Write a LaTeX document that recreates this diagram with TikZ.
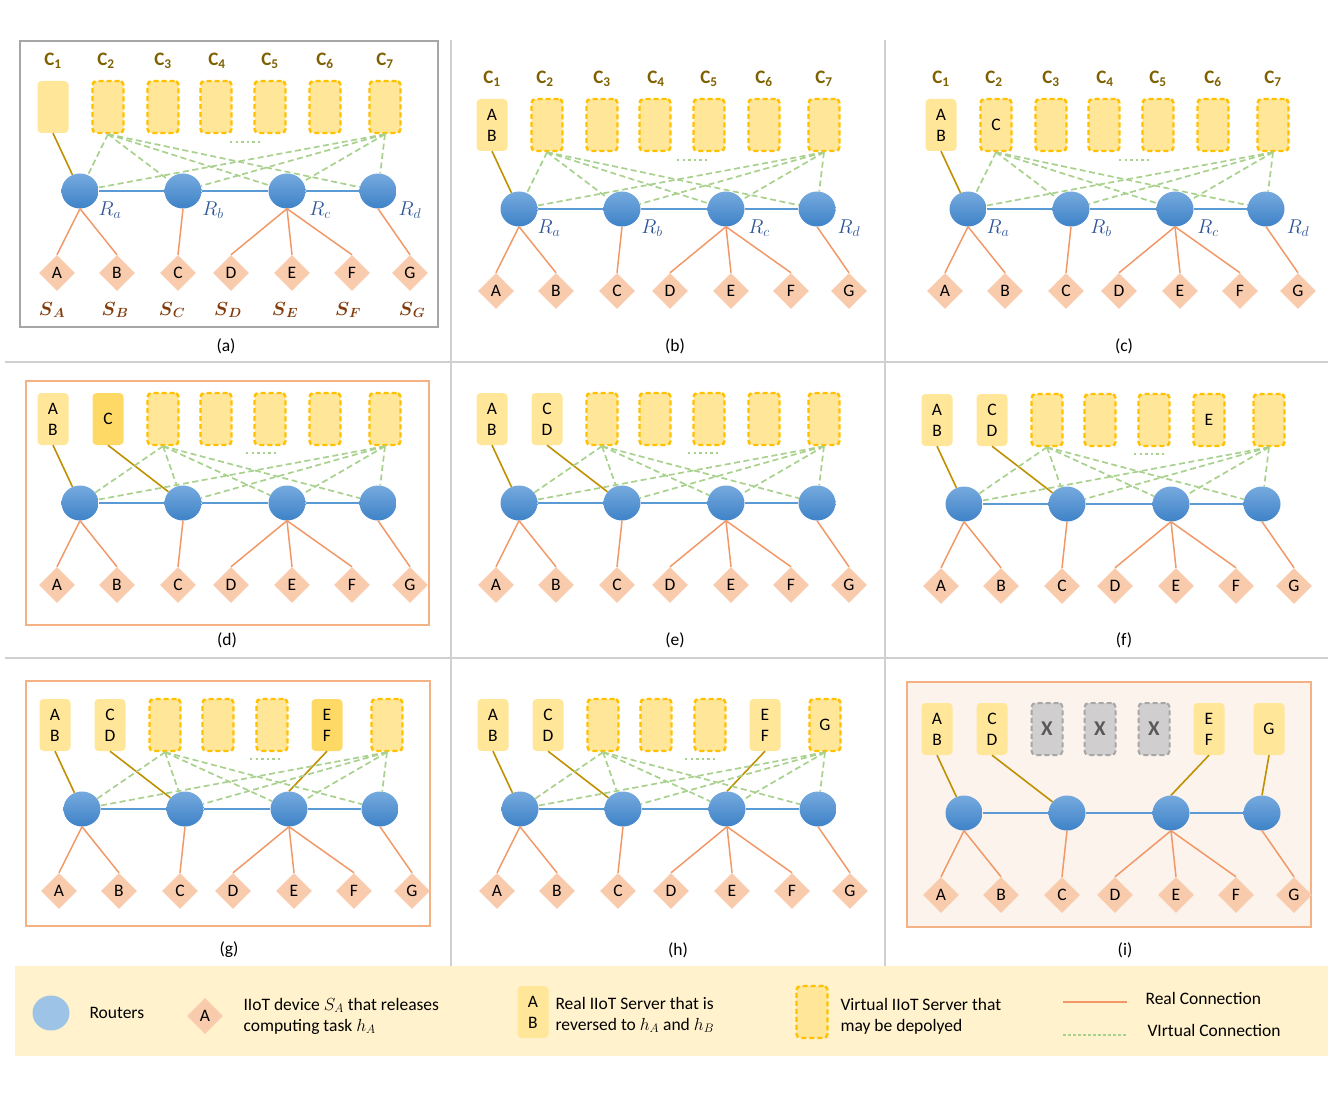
\RequirePackage{fix-cm}
\documentclass[tikz,border=0pt]{standalone}
\usepackage{amsmath,amssymb}
\usepackage{fontspec}
\setmainfont{Carlito}
\usetikzlibrary{shapes.geometric}

\definecolor{srvfill}{RGB}{255,230,153}
\definecolor{srvdark}{RGB}{255,217,102}
\definecolor{srvline}{RGB}{255,192,0}
\definecolor{rtop}{RGB}{118,170,222}
\definecolor{rbot}{RGB}{62,130,200}
\definecolor{rline}{RGB}{91,155,213}
\definecolor{devfill}{RGB}{248,203,173}
\definecolor{realc}{RGB}{241,152,102}
\definecolor{goldc}{RGB}{191,144,0}
\definecolor{virtc}{RGB}{169,209,142}
\definecolor{clab}{RGB}{127,96,0}
\definecolor{slab}{RGB}{132,60,12}
\definecolor{rlab}{RGB}{47,85,151}
\definecolor{framegrey}{RGB}{166,166,166}
\definecolor{frameorange}{RGB}{244,177,131}
\definecolor{pinkbg}{RGB}{252,243,237}
\definecolor{sepgrey}{RGB}{208,208,208}
\definecolor{legbg}{RGB}{255,242,204}
\definecolor{xfill}{RGB}{208,206,206}
\definecolor{xline}{RGB}{166,166,166}
\definecolor{xtext}{RGB}{89,89,89}
\definecolor{legrouter}{RGB}{157,195,230}

\newcommand{\txtfont}{\fontsize{17.5}{21}\selectfont}

% routers, devices and their real links of one panel
\newcommand{\basenet}[1]{%
\node[router] (#1ra) at (80,191) {};\node[router] (#1rb) at (183,191) {};
\node[router] (#1rc) at (287,191) {};\node[router] (#1rd) at (378,191) {};
\draw[backbone] (#1ra) -- (#1rb) -- (#1rc) -- (#1rd);
\node[device] (#1dA) at (57,273) {A};\node[device] (#1dB) at (117,273) {B};
\node[device] (#1dC) at (178,273) {C};\node[device] (#1dD) at (231,273) {D};
\node[device] (#1dE) at (292,273) {E};\node[device] (#1dF) at (352,273) {F};
\node[device] (#1dG) at (410,273) {G};
\draw[reallink] (#1ra.south) -- (#1dA.north);\draw[reallink] (#1ra.south) -- (#1dB.north);
\draw[reallink] (#1rb.south) -- (#1dC.north);
\draw[reallink] (#1rc.south) -- (#1dD.north);\draw[reallink] (#1rc.south) -- (#1dE.north);
\draw[reallink] (#1rc.south) -- (#1dF.north);
\draw[reallink] (#1rd.south) -- (#1dG.north);
}
% virtual links of one server to the four routers
\newcommand{\vlinks}[2]{%
\draw[virtual] (#1#2.south) -- (#1ra);\draw[virtual] (#1#2.south) -- (#1rb);
\draw[virtual] (#1#2.south) -- (#1rc);\draw[virtual] (#1#2.south) -- (#1rd);
}
\newcommand{\clabels}[1]{%
\node[clabel] (#1c1) at (53,61) {$\mathbf{C}_{\mathbf{1}}$};\node[clabel] (#1c2) at (106,61) {$\mathbf{C}_{\mathbf{2}}$};
\node[clabel] (#1c3) at (163,61) {$\mathbf{C}_{\mathbf{3}}$};\node[clabel] (#1c4) at (217,61) {$\mathbf{C}_{\mathbf{4}}$};
\node[clabel] (#1c5) at (270,61) {$\mathbf{C}_{\mathbf{5}}$};\node[clabel] (#1c6) at (325,61) {$\mathbf{C}_{\mathbf{6}}$};
\node[clabel] (#1c7) at (385,61) {$\mathbf{C}_{\mathbf{7}}$};
}
\newcommand{\rlabels}[1]{%
\node[rlabel] (#1la) at (110,210) {$R_a$};\node[rlabel] (#1lb) at (213,210) {$R_b$};
\node[rlabel] (#1lc) at (320,210) {$R_c$};\node[rlabel] (#1ld) at (410,210) {$R_d$};
}

\begin{document}
\begin{tikzpicture}[x=1pt,y=-1pt,
  router/.style={ellipse,minimum width=37pt,minimum height=35pt,inner sep=0pt,top color=rtop,bottom color=rbot,draw=none},
  device/.style={diamond,minimum width=36pt,minimum height=36pt,inner sep=0pt,fill=devfill,font=\txtfont},
  realsrv/.style={rectangle,rounded corners=4pt,minimum width=31pt,minimum height=52pt,inner sep=0pt,fill=srvfill,align=center,font=\txtfont},
  usedsrv/.style={realsrv,fill=srvdark},
  virtsrv/.style={realsrv,draw=srvline,line width=2.4pt,dash pattern=on 5pt off 3pt},
  deadsrv/.style={realsrv,fill=xfill,draw=xline,line width=2pt,dash pattern=on 5pt off 3pt,text=xtext,font=\fontsize{21}{22}\selectfont\bfseries},
  reallink/.style={realc,line width=1.5pt},
  srvlink/.style={goldc,line width=1.6pt},
  virtual/.style={virtc,line width=1.7pt,dash pattern=on 6pt off 3.5pt},
  backbone/.style={rline,line width=1.8pt},
  dotrow/.style={virtc,line width=2.4pt,dash pattern=on 2.4pt off 3.2pt},
  clabel/.style={text=clab,font=\fontsize{19}{21}\selectfont},
  rlabel/.style={text=rlab,font=\fontsize{20}{22}\selectfont},
  slabel/.style={text=slab,font=\fontsize{19}{21}\selectfont},
  caption/.style={font=\txtfont},
  legtext/.style={anchor=west,align=left,font=\txtfont}]

\useasboundingbox (0,0) rectangle (1343,1099);

%%%%%%%%%%%%%%% separators
\draw[sepgrey,line width=2.2pt] (5,362) -- (1328,362);\draw[sepgrey,line width=2.2pt] (5,658) -- (1328,658);
\draw[sepgrey,line width=1.6pt] (451,40) -- (451,966);\draw[sepgrey,line width=1.6pt] (885,40) -- (885,966);

%%%%%%%%%%%%%%% (a)
\draw[framegrey,line width=2.5pt] (20,41) rectangle (438,327);
\begin{scope}
\basenet{a}
\clabels{a}\rlabels{a}
\node[realsrv] (as1) at (53,107) {};\node[virtsrv] (as2) at (108,107) {};
\node[virtsrv] (as3) at (163,107) {};\node[virtsrv] (as4) at (216,107) {};
\node[virtsrv] (as5) at (270,107) {};\node[virtsrv] (as6) at (325,107) {};
\node[virtsrv] (as7) at (385,107) {};
\draw[srvlink] (as1.south) -- (ara);
\vlinks{a}{s2}\vlinks{a}{s7}
\draw[dotrow] (230,142) -- (262,142);
\node[slabel] (asA) at (52,310) {$\boldsymbol{S}_{\boldsymbol{A}}$};\node[slabel] (asB) at (115,310) {$\boldsymbol{S}_{\boldsymbol{B}}$};
\node[slabel] (asC) at (172,310) {$\boldsymbol{S}_{\boldsymbol{C}}$};\node[slabel] (asD) at (228,310) {$\boldsymbol{S}_{\boldsymbol{D}}$};
\node[slabel] (asE) at (285,310) {$\boldsymbol{S}_{\boldsymbol{E}}$};\node[slabel] (asF) at (348,310) {$\boldsymbol{S}_{\boldsymbol{F}}$};
\node[slabel] (asG) at (412,310) {$\boldsymbol{S}_{\boldsymbol{G}}$};
\end{scope}
\node[caption] (capa) at (226,346) {(a)};

%%%%%%%%%%%%%%% (b)
\begin{scope}[shift={(439,18)}]
\basenet{b}
\clabels{b}\rlabels{b}
\node[realsrv] (bs1) at (53,107) {A\\B};\node[virtsrv] (bs2) at (108,107) {};
\node[virtsrv] (bs3) at (163,107) {};\node[virtsrv] (bs4) at (216,107) {};
\node[virtsrv] (bs5) at (270,107) {};\node[virtsrv] (bs6) at (325,107) {};
\node[virtsrv] (bs7) at (385,107) {};
\draw[srvlink] (bs1.south) -- (bra);
\vlinks{b}{s2}\vlinks{b}{s7}
\draw[dotrow] (238,142) -- (270,142);
\end{scope}
\node[caption] (capb) at (675,346) {(b)};

%%%%%%%%%%%%%%% (c)
\begin{scope}[shift={(888,18)}]
\basenet{c}
\clabels{c}\rlabels{c}
\node[realsrv] (cs1) at (53,107) {A\\B};\node[virtsrv] (cs2) at (108,107) {C};
\node[virtsrv] (cs3) at (163,107) {};\node[virtsrv] (cs4) at (216,107) {};
\node[virtsrv] (cs5) at (270,107) {};\node[virtsrv] (cs6) at (325,107) {};
\node[virtsrv] (cs7) at (385,107) {};
\draw[srvlink] (cs1.south) -- (cra);
\vlinks{c}{s2}\vlinks{c}{s7}
\draw[dotrow] (231,142) -- (263,142);
\end{scope}
\node[caption] (capc) at (1124,346) {(c)};

%%%%%%%%%%%%%%% (d)
\draw[frameorange,line width=2.5pt] (26,381) rectangle (429,625);
\begin{scope}[shift={(0,312)}]
\basenet{d}
\node[realsrv] (ds1) at (53,107) {A\\B};\node[usedsrv] (ds2) at (108,107) {C};
\node[virtsrv] (ds3) at (163,107) {};\node[virtsrv] (ds4) at (216,107) {};
\node[virtsrv] (ds5) at (270,107) {};\node[virtsrv] (ds6) at (325,107) {};
\node[virtsrv] (ds7) at (385,107) {};
\draw[srvlink] (ds1.south) -- (dra);\draw[srvlink] (ds2.south) -- (drb);
\vlinks{d}{s3}\vlinks{d}{s7}
\draw[dotrow] (246,141) -- (278,141);
\end{scope}
\node[caption] (capd) at (227,640) {(d)};

%%%%%%%%%%%%%%% (e)
\begin{scope}[shift={(439,312)}]
\basenet{e}
\node[realsrv] (es1) at (53,107) {A\\B};\node[realsrv] (es2) at (108,107) {C\\D};
\node[virtsrv] (es3) at (163,107) {};\node[virtsrv] (es4) at (216,107) {};
\node[virtsrv] (es5) at (270,107) {};\node[virtsrv] (es6) at (325,107) {};
\node[virtsrv] (es7) at (385,107) {};
\draw[srvlink] (es1.south) -- (era);\draw[srvlink] (es2.south) -- (erb);
\vlinks{e}{s3}\vlinks{e}{s7}
\draw[dotrow] (249,141) -- (281,141);
\end{scope}
\node[caption] (cape) at (675,640) {(e)};

%%%%%%%%%%%%%%% (f)
\begin{scope}[shift={(884,313)}]
\basenet{f}
\node[realsrv] (fs1) at (53,107) {A\\B};\node[realsrv] (fs2) at (108,107) {C\\D};
\node[virtsrv] (fs3) at (163,107) {};\node[virtsrv] (fs4) at (216,107) {};
\node[virtsrv] (fs5) at (270,107) {};\node[virtsrv] (fs6) at (325,107) {E};
\node[virtsrv] (fs7) at (385,107) {};
\draw[srvlink] (fs1.south) -- (fra);\draw[srvlink] (fs2.south) -- (frb);
\vlinks{f}{s3}\vlinks{f}{s7}
\draw[dotrow] (250,141) -- (282,141);
\end{scope}
\node[caption] (capf) at (1124,640) {(f)};

%%%%%%%%%%%%%%% (g)
\draw[frameorange,line width=2.5pt] (26,681) rectangle (430,926);
\begin{scope}[shift={(2,618)}]
\basenet{g}
\node[realsrv] (gs1) at (53,107) {A\\B};\node[realsrv] (gs2) at (108,107) {C\\D};
\node[virtsrv] (gs3) at (163,107) {};\node[virtsrv] (gs4) at (216,107) {};
\node[virtsrv] (gs5) at (270,107) {};\node[usedsrv] (gs6) at (325,107) {E\\F};
\node[virtsrv] (gs7) at (385,107) {};
\draw[srvlink] (gs1.south) -- (gra);\draw[srvlink] (gs2.south) -- (grb);
\draw[srvlink] (gs6.south) -- (grc.north);
\vlinks{g}{s3}\vlinks{g}{s7}
\draw[dotrow] (248,141) -- (280,141);
\end{scope}
\node[caption] (capg) at (229,950) {(g)};

%%%%%%%%%%%%%%% (h)
\begin{scope}[shift={(440,618)}]
\basenet{h}
\node[realsrv] (hs1) at (53,107) {A\\B};\node[realsrv] (hs2) at (108,107) {C\\D};
\node[virtsrv] (hs3) at (163,107) {};\node[virtsrv] (hs4) at (216,107) {};
\node[virtsrv] (hs5) at (270,107) {};\node[realsrv] (hs6) at (325,107) {E\\F};
\node[virtsrv] (hs7) at (385,107) {G};
\draw[srvlink] (hs1.south) -- (hra);\draw[srvlink] (hs2.south) -- (hrb);
\draw[srvlink] (hs6.south) -- (hrc.north);
\vlinks{h}{s3}\vlinks{h}{s7}
\draw[dotrow] (245,141) -- (277,141);
\end{scope}
\node[caption] (caph) at (678,950) {(h)};

%%%%%%%%%%%%%%% (i)
\draw[frameorange,fill=pinkbg,line width=2.5pt] (907,682) rectangle (1311,927);
\begin{scope}[shift={(884,622)}]
\basenet{i}
\node[realsrv] (is1) at (53,107) {A\\B};\node[realsrv] (is2) at (108,107) {C\\D};
\node[deadsrv] (is3) at (163,107) {X};\node[deadsrv] (is4) at (216,107) {X};
\node[deadsrv] (is5) at (270,107) {X};\node[realsrv] (is6) at (325,107) {E\\F};
\node[realsrv] (is7) at (385,107) {G};
\draw[srvlink] (is1.south) -- (ira);\draw[srvlink] (is2.south) -- (irb);
\draw[srvlink] (is6.south) -- (irc.north);\draw[srvlink] (is7.south) -- (ird.north);
\end{scope}
\node[caption] (capi) at (1125,950) {(i)};

%%%%%%%%%%%%%%% legend
\fill[legbg] (15,966) rectangle (1328,1056);
\node[ellipse,minimum width=37pt,minimum height=35pt,inner sep=0pt,fill=legrouter] (lrouter) at (51,1013) {};
\node[legtext] (lroutertxt) at (86,1013) {Routers};
\node[device] (ldevice) at (205,1016) {A};
\node[legtext] (ldevicetxt) at (240,1016) {IIoT device $S_A$ that releases\\computing task $h_A$};
\node[realsrv] (lreal) at (533,1012) {A\\B};
\node[legtext] (lrealtxt) at (552,1015) {Real IIoT Server that is\\reversed to $h_A$ and $h_B$};
\node[virtsrv] (lvirt) at (812,1012) {};
\node[legtext] (lvirttxt) at (837,1016) {Virtual IIoT Server that\\may be depolyed};
\coordinate (lrl1) at (1063,1002);\coordinate (lrl2) at (1127,1002);
\draw[reallink] (lrl1) -- (lrl2);
\node[legtext] (lrltxt) at (1142,998) {Real Connection};
\coordinate (lvl1) at (1063,1035);\coordinate (lvl2) at (1127,1035);
\draw[virtual,line width=1.2pt,dash pattern=on 3pt off 2pt] (lvl1) -- (lvl2);
\node[legtext] (lvltxt) at (1144,1030) {VIrtual Connection};

\end{tikzpicture}
\end{document}
